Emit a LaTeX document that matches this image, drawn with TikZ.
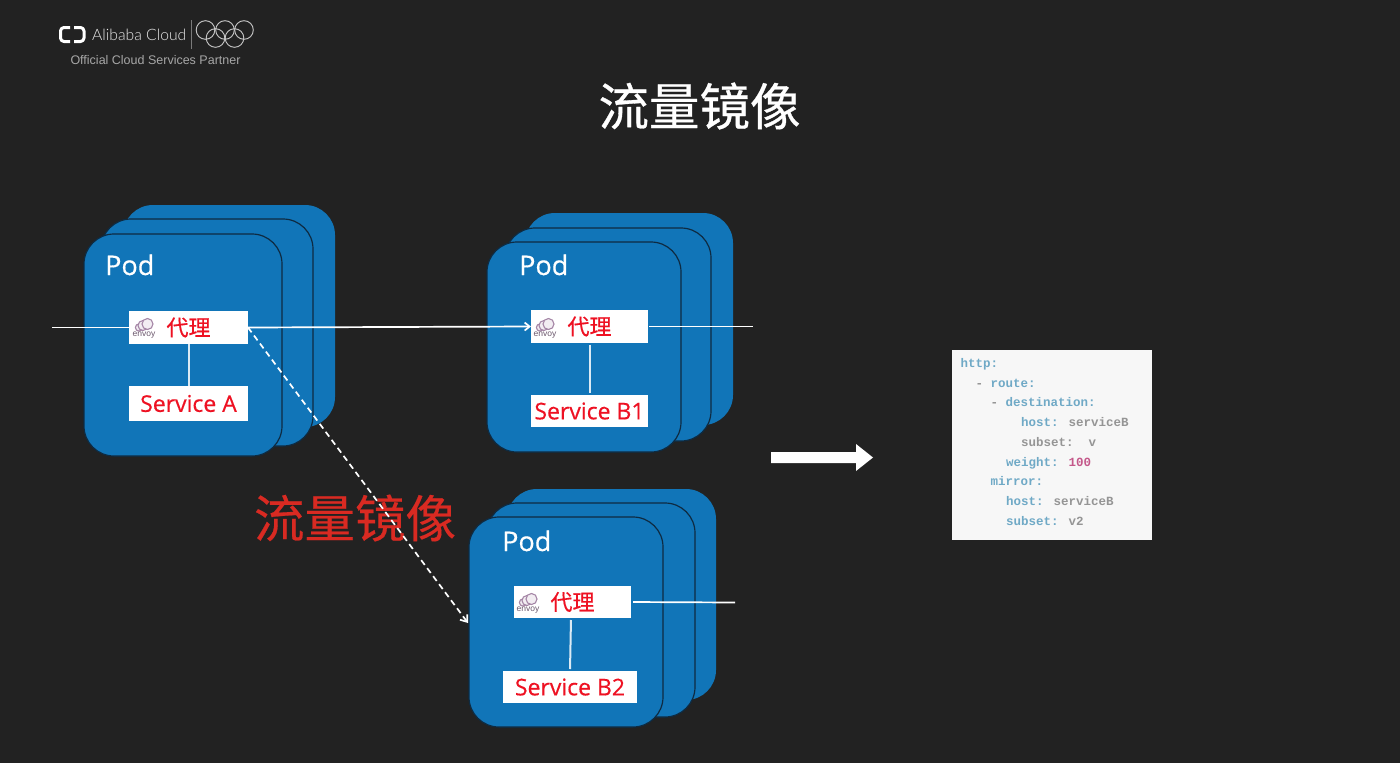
\documentclass[tikz,border=0pt]{standalone}
\usepackage{fontspec}
\setmainfont{Open Sans}[FakeBold=0.45]
\newfontfamily\cjkfont{Noto Sans CJK SC}[FakeBold=0.4]
\newfontfamily\cjktitle{Noto Sans CJK SC}[FakeBold=0.6]
\newfontfamily\logofont{Lato Light}
\newfontfamily\partnerfont{Liberation Sans}
\newfontfamily\codefont{Liberation Mono}
\usetikzlibrary{arrows.meta}
\definecolor{slide}{HTML}{222222}
\definecolor{podblue}{HTML}{1175B8}
\definecolor{podedge}{HTML}{0E2B42}
\definecolor{labelred}{HTML}{EE1122}
\definecolor{bannerred}{HTML}{D92A22}
\definecolor{envoypurple}{HTML}{A586A6}
\definecolor{yamlkey}{HTML}{6FA9C6}
\definecolor{yamlval}{HTML}{959595}
\definecolor{yamlnum}{HTML}{C4588A}
\tikzset{
  podback/.style={fill=podblue,rounded corners=30pt,inner sep=0pt,outer sep=0pt},
  podfront/.style={podback,draw=podedge,line width=1.2pt},
  whitebox/.style={fill=white,inner sep=0pt,outer sep=0pt,text=labelred},
  proxybox/.style={whitebox,font=\cjkfont\fontsize{22}{22}\selectfont},
  servicebox/.style={whitebox,font=\fontsize{23}{23}\selectfont},
  podlabel/.style={text=white,inner sep=0pt,font=\fontsize{27}{27}\selectfont},
  wire/.style={draw=white,line width=1.7pt},
  linkwire/.style={draw=white!85!podblue,line width=2pt},
  yaml/.style={anchor=base west,inner sep=0pt,font=\codefont\bfseries\fontsize{12.5}{12.5}\selectfont},
  ring/.style={draw=white!75!slide,line width=0.9pt},
}
% Envoy mark: a small cloud with the word below it
\newcommand{\envoymark}[3]{%
  \begin{scope}[shift={(#1,#2)}]
    \foreach \cx/\cy/\r in {-5/2.5/3.6,-1/0.5/5,3.5/-1/5.5}{
      \draw[envoypurple,line width=1.1pt,fill=envoypurple!15!white] (\cx,\cy) circle (\r);
    }
    \node[inner sep=0pt,text=envoypurple!65!black,font=\partnerfont\fontsize{8.5}{8.5}\selectfont] (#3) at (0,10.5) {envoy};
  \end{scope}%
}
\begin{document}
\begin{tikzpicture}[x=1pt,y=-1pt]
  \useasboundingbox[fill=slide] (0,0) rectangle (1400,763);

  % Vendor logo
  \draw[white,line width=3pt,line join=round,rounded corners=3.5pt] (70,27.5) -- (60.5,27.5) -- (60.5,41.5) -- (70,41.5);
  \draw[white,line width=3pt,line join=round,rounded corners=3.5pt] (74,27.5) -- (84,27.5) -- (84,41.5) -- (74,41.5);
  \node[anchor=west,inner sep=0pt,text=white!90!slide,font=\logofont\fontsize{15.7}{18}\selectfont] (brand) at (92,34.5) {Alibaba Cloud};
  \draw[white!40!slide,line width=0.6pt] (191,20) -- (191,49);
  \foreach \rx/\ry in {205.5/30,225/30,244/30,215.5/38,234.5/38}{
    \draw[ring] (\rx,\ry) circle (9.3);
  }
  \node[inner sep=0pt,text=white!60!slide,font=\partnerfont\fontsize{12.5}{12.5}\selectfont] (partner) at (155.5,60) {Official Cloud Services Partner};

  % Headings
  \node[inner sep=0pt,text=white,font=\cjktitle\fontsize{50.5}{50.5}\selectfont] (title) at (699.5,106) {流量镜像};
  \node[inner sep=0pt,text=bannerred,font=\cjkfont\fontsize{50.5}{50.5}\selectfont] (banner) at (355,518) {流量镜像};

  % Pod stack of Service A
  \path[podback]  (123,205) rectangle (335,427);
  \path[podfront] (101,219) rectangle (313,446);
  \path[podfront] (84,234) rectangle (282,456);
  \node[podlabel,anchor=base west] (podA) at (105,275) {Pod};

  % Pod stack of Service B1
  \path[podback]  (525,213) rectangle (733,425);
  \path[podfront] (505,228) rectangle (711,441);
  \path[podfront] (487,242) rectangle (681,452);
  \node[podlabel,anchor=base west] (podB1) at (519,275) {Pod};

  % Pod stack of Service B2
  \path[podback]  (507,489) rectangle (716,700);
  \path[podfront] (487,503) rectangle (695,717);
  \path[podfront] (469,517) rectangle (663,727);
  \node[podlabel,anchor=base west] (podB2) at (502,551) {Pod};

  % Proxy and service boxes
  \node[proxybox,minimum width=119pt,minimum height=33pt] (proxyA) at (188.5,327.5) {代理};
  \node[servicebox,minimum width=119pt,minimum height=35pt] (svcA) at (188.5,403.5) {\raisebox{-2.5pt}{Service A}};
  \node[proxybox,minimum width=117pt,minimum height=33pt] (proxyB1) at (589.5,326.5) {代理};
  \node[servicebox,minimum width=117pt,minimum height=32pt] (svcB1) at (589.5,411) {\raisebox{-1.5pt}{Service B1}};
  \node[proxybox,minimum width=117pt,minimum height=32pt] (proxyB2) at (572.5,602) {代理};
  \node[servicebox,minimum width=134pt,minimum height=32pt] (svcB2) at (570,687) {\raisebox{-1.5pt}{Service B2}};

  \envoymark{144}{325}{envoyA}
  \envoymark{545}{325}{envoyB1}
  \envoymark{528}{600}{envoyB2}

  % Free ends of the connectors
  \coordinate (inA) at (52,327.5);
  \coordinate (outB1) at (753,326.5);
  \coordinate (outB2) at (735,602.5);
  \coordinate (mirrorEnd) at (468,623);

  % Connectors
  \draw[wire] (inA) -- (proxyA.west);
  \draw[wire,-{Straight Barb[length=5pt,width=8pt]}] (proxyA.east) -- (proxyB1.west);
  \draw[wire,shorten <=1pt] (proxyB1.east) -- (outB1);
  \draw[wire,shorten <=2pt] (proxyB2.east) -- (outB2);
  \draw[wire,dash pattern=on 6pt off 4pt,-{Straight Barb[length=6pt,width=9pt]}] (proxyA.east) -- (mirrorEnd);
  \draw[linkwire] (proxyA.south) -- (svcA.north);
  \draw[linkwire,shorten <=1.5pt,shorten >=2pt] (proxyB1.south -| svcB1.north) -- (svcB1.north);
  \draw[linkwire,shorten <=2pt,shorten >=2pt] (proxyB2.south -| svcB2.north) ++(1,0) -- (svcB2.north);

  % Transition arrow towards the configuration
  \fill[white] (771,452) -- (856,452) -- (856,444) -- (873,457.5) -- (856,471) -- (856,463) -- (771,463) -- cycle;

  % Routing configuration panel
  \node[fill=white!97!black,inner sep=0pt,outer sep=0pt,minimum width=200pt,minimum height=190pt] (panel) at (1051.5,445) {};
  \node[yaml,text=yamlkey] (l1) at (960.5,367.5) {http:};
  \node[yaml,text=yamlkey] (l2) at (975.5,387) {\textcolor{yamlval}{-} route:};
  \node[yaml,text=yamlkey] (l3) at (990.5,406.5) {\textcolor{yamlval}{-} destination:};
  \node[yaml,text=yamlkey] (l4) at (1021,426.5) {host: \textcolor{yamlval}{serviceB}};
  \node[yaml,text=yamlval] (l5) at (1021,446) {subset:\ \ v};
  \node[yaml,text=yamlkey] (l6) at (1006,466) {weight: \textcolor{yamlnum}{100}};
  \node[yaml,text=yamlkey] (l7) at (990.5,485.5) {mirror:};
  \node[yaml,text=yamlkey] (l8) at (1006,505) {host: \textcolor{yamlval}{serviceB}};
  \node[yaml,text=yamlkey] (l9) at (1006,525) {subset: \textcolor{yamlval}{v2}};
\end{tikzpicture}
\end{document}
